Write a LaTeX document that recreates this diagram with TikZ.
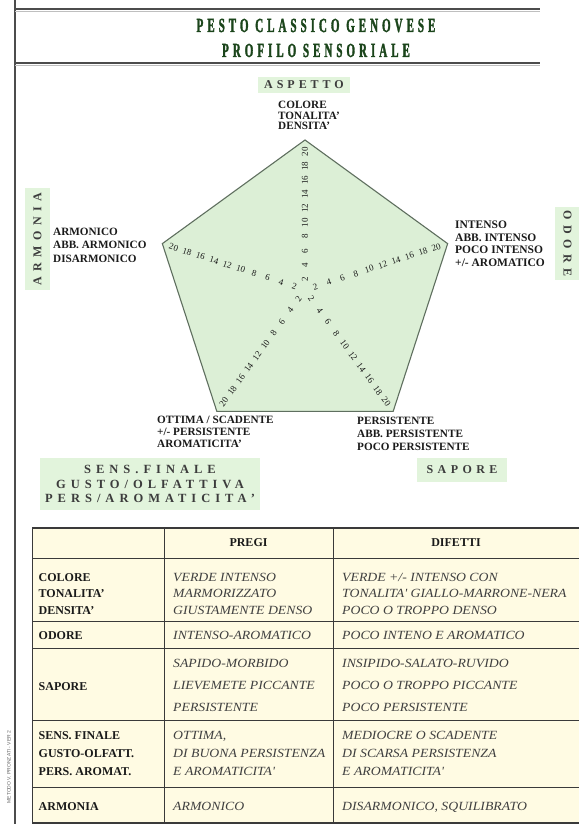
\documentclass[tikz,border=0pt]{standalone}
\usepackage{fontspec}
\setmainfont{Liberation Serif}
\newfontfamily\titlefont[FakeStretch=0.55,LetterSpace=20,FakeBold=1.6]{Liberation Serif}
\newfontfamily\itfont[FakeStretch=1.1]{Liberation Serif}
\newfontfamily\tinysans{Liberation Sans}
\definecolor{lblgreen}{HTML}{E2F4DC}
\definecolor{pentfill}{HTML}{DCEFD6}
\definecolor{pentline}{HTML}{5F6F5F}
\definecolor{titlegreen}{HTML}{1B451B}
\definecolor{tabfill}{HTML}{FFFBE3}
\definecolor{tabline}{HTML}{3A3A3A}
\definecolor{txt}{HTML}{1A1A1A}
\definecolor{itxt}{HTML}{404040}
\newcommand\lsp[1]{\addfontfeatures{LetterSpace=#1}}
\begin{document}
\begin{tikzpicture}[x=1pt,y=-1pt,
  lbl/.style={font=\fontsize{11.2}{12.7}\selectfont\bfseries, text=txt, anchor=north west, inner sep=0pt, align=left},
  gbox/.style={fill=lblgreen, draw=none, inner sep=0pt},
  gtext/.style={font=\fontsize{12}{14}\selectfont\bfseries, text=txt!85},
  axisnum/.style={font=\fontsize{9}{9}\selectfont, inner sep=0pt, text=txt},
  thead/.style={font=\fontsize{12}{14}\selectfont\bfseries, text=txt, inner sep=0pt},
  tcol/.style={font=\fontsize{12}{14}\selectfont\bfseries, text=txt, anchor=base west, inner sep=0pt},
  tit/.style={font=\itfont\itshape\fontsize{12.5}{14}\selectfont, text=itxt, anchor=base west, inner sep=0pt},
  titl/.style={font=\titlefont\bfseries\fontsize{20}{20}\selectfont, text=titlegreen, anchor=base, inner sep=0pt},
  rule/.style={line width=1.2pt, draw=black!70},
  tline/.style={line width=0.8pt, draw=tabline},
]
\useasboundingbox (0,0) rectangle (578,824);
\fill[white] (0,0) rectangle (578,824);

% frame lines
\draw[rule] (15,0) -- (15,824);
\draw[rule] (15,9) -- (540,9);
\draw[black!25, line width=0.8pt] (15,11) -- (540,11);
\draw[rule] (15,63) -- (540,63);
\draw[black!25, line width=0.8pt] (15,65) -- (540,65);

% title
\node[titl] (title1) at (316,32) {PESTO CLASSICO GENOVESE};
\node[titl] (title2) at (316,57) {PROFILO SENSORIALE};

% pentagon
\coordinate (c) at (305,290);
\foreach \n/\a in {vt/90, vr/18, vbr/-54, vbl/-126, vl/162}
  \coordinate (\n) at ({305+150*cos(\a)},{290-150*sin(\a)});
\draw[fill=pentfill, draw=pentline, line width=1.1pt] (vt) -- (vr) -- (vbr) -- (vbl) -- (vl) -- cycle;

\foreach \a/\rot [count=\i] in {90/90, 18/18, -54/-54, -126/54, 162/-18} {
  \foreach \k in {2,4,...,20} {
    \pgfmathsetmacro\r{11+7.06*(\k-2)}
    \node[axisnum, rotate=\rot] (ax\i-\k) at ({305+\r*cos(\a)},{290-\r*sin(\a)}) {\k};
  }
}

% green labels
\node[gbox, gtext, minimum width=92pt, minimum height=16pt] (asp) at (304,85) {\lsp{33}ASPETTO};
\node[gbox, gtext, rotate=90, minimum width=102pt, minimum height=25pt] (arm) at (37.5,239) {\lsp{46}ARMONIA};
\node[gbox, gtext, rotate=-90, minimum width=73pt, minimum height=25pt] (odo) at (567.5,243.5) {\lsp{44}ODORE};
\node[gbox, gtext, minimum width=90pt, minimum height=24pt] (sap) at (462,470) {\lsp{37}SAPORE};
\node[gbox, font=\fontsize{12.5}{14.5}\selectfont\bfseries, text=txt!85, align=center, minimum width=220pt, minimum height=52pt] (sens) at (150,484)
  {\lsp{40}SENS.FINALE\\\lsp{40}GUSTO/OLFATTIVA\\\lsp{40}PERS/AROMATICITA'};

% descriptor labels
\node[lbl, font=\fontsize{11.2}{10.5}\selectfont\bfseries] (asplbl) at (278,101) {COLORE\\TONALITA'\\DENSITA'};
\node[lbl, font=\fontsize{11.2}{13.3}\selectfont\bfseries] (armlbl) at (53,228) {ARMONICO\\ABB. ARMONICO\\DISARMONICO};
\node[lbl, font=\fontsize{11.5}{12.7}\selectfont\bfseries] (odolbl) at (455,220.5) {INTENSO\\ABB. INTENSO\\POCO INTENSO\\+/- AROMATICO};
\node[lbl, font=\fontsize{11.2}{12}\selectfont\bfseries] (senslbl) at (157,416) {OTTIMA / SCADENTE\\+/- PERSISTENTE\\AROMATICITA'};
\node[lbl, font=\fontsize{11.2}{13}\selectfont\bfseries] (saplbl) at (357,417) {PERSISTENTE\\ABB. PERSISTENTE\\POCO PERSISTENTE};

% table
\fill[tabfill] (32.5,528) rectangle (579,823);
\foreach \y in {558.6,621,648,720,787} \draw[tline] (32.5,\y) -- (579,\y);
\foreach \x in {164,333} \draw[tline] (\x,528) -- (\x,823);
\draw[line width=1.6pt, draw=tabline] (579,528) -- (32.5,528) -- (32.5,823) -- (579,823);

\node[thead] (hpregi) at (248.5,543) {PREGI};
\node[thead] (hdif) at (456,543) {DIFETTI};

\node[tcol] (r1a) at (38.5,581) {COLORE};
\node[tcol] (r1b) at (38.5,597.5) {TONALITA'};
\node[tcol] (r1c) at (38.5,614) {DENSITA'};
\node[tcol] (r2) at (38.5,639) {ODORE};
\node[tcol] (r3) at (38.5,690) {SAPORE};
\node[tcol] (r4a) at (38.5,739) {SENS. FINALE};
\node[tcol] (r4b) at (38.5,757) {GUSTO-OLFATT.};
\node[tcol] (r4c) at (38.5,775) {PERS. AROMAT.};
\node[tcol] (r5) at (38.5,810) {ARMONIA};

\node[tit] (p1a) at (173,581) {VERDE INTENSO};
\node[tit] (p1b) at (173,597.5) {MARMORIZZATO};
\node[tit] (p1c) at (173,614) {GIUSTAMENTE DENSO};
\node[tit] (p2) at (173,639) {INTENSO-AROMATICO};
\node[tit] (p3a) at (173,667) {SAPIDO-MORBIDO};
\node[tit] (p3b) at (173,689) {LIEVEMETE PICCANTE};
\node[tit] (p3c) at (173,711) {PERSISTENTE};
\node[tit] (p4a) at (173,739) {OTTIMA,};
\node[tit] (p4b) at (173,757) {DI BUONA PERSISTENZA};
\node[tit] (p4c) at (173,775) {E AROMATICITA'};
\node[tit] (p5) at (173,810) {ARMONICO};

\node[tit] (d1a) at (342,581) {VERDE +/- INTENSO CON};
\node[tit] (d1b) at (342,597.5) {TONALITA' GIALLO-MARRONE-NERA};
\node[tit] (d1c) at (342,614) {POCO O TROPPO DENSO};
\node[tit] (d2) at (342,639) {POCO INTENO E AROMATICO};
\node[tit] (d3a) at (342,667) {INSIPIDO-SALATO-RUVIDO};
\node[tit] (d3b) at (342,689) {POCO O TROPPO PICCANTE};
\node[tit] (d3c) at (342,711) {POCO PERSISTENTE};
\node[tit] (d4a) at (342,739) {MEDIOCRE O SCADENTE};
\node[tit] (d4b) at (342,757) {DI SCARSA PERSISTENZA};
\node[tit] (d4c) at (342,775) {E AROMATICITA'};
\node[tit] (d5) at (342,810) {DISARMONICO, SQUILIBRATO};

\node[font=\tinysans\fontsize{5}{5}\selectfont, text=black!60, rotate=90, inner sep=0pt] (ver) at (9,767) {METODO V. PRONZATI - VER 2};
\end{tikzpicture}
\end{document}
